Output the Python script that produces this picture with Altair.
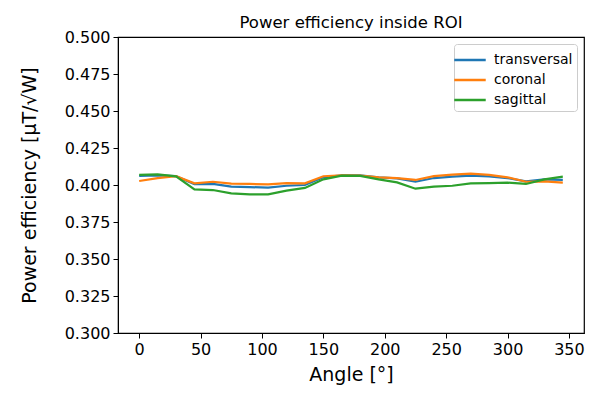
import altair as alt
import pandas as pd

angles = [0, 15, 30, 45, 60, 75, 90, 105, 120, 135, 150, 165,
          180, 195, 210, 225, 240, 255, 270, 285, 300, 315, 330, 345]

transversal = [0.4061, 0.4065, 0.4060, 0.4005, 0.4007, 0.3989, 0.3986, 0.3982,
               0.3995, 0.4000, 0.4052, 0.4066, 0.4066, 0.4052, 0.4045, 0.4022,
               0.4047, 0.4056, 0.4063, 0.4058, 0.4047, 0.4025, 0.4038, 0.4034]
coronal = [0.4027, 0.4047, 0.4060, 0.4011, 0.4022, 0.4009, 0.4007, 0.4004,
           0.4013, 0.4011, 0.4059, 0.4066, 0.4064, 0.4052, 0.4047, 0.4034,
           0.4060, 0.4070, 0.4077, 0.4068, 0.4052, 0.4022, 0.4025, 0.4016]
sagittal = [0.4068, 0.4072, 0.4058, 0.3970, 0.3966, 0.3944, 0.3937, 0.3937,
            0.3962, 0.3980, 0.4038, 0.4063, 0.4062, 0.4038, 0.4018, 0.3975,
            0.3989, 0.3995, 0.4011, 0.4013, 0.4016, 0.4007, 0.4038, 0.4056]

series_names = ["transversal", "coronal", "sagittal"]
series_colors = ["#1f77b4", "#ff7f0e", "#2ca02c"]
x_ticks = [0, 50, 100, 150, 200, 250, 300, 350]
y_ticks = [0.300, 0.325, 0.350, 0.375, 0.400, 0.425, 0.450, 0.475, 0.500]

rows = []
for name, vals in zip(series_names, [transversal, coronal, sagittal]):
    for a, v in zip(angles, vals):
        rows.append({"angle": a, "eff": v, "plane": name})
df = pd.DataFrame(rows)

FONT = "DejaVu Sans"

chart = alt.Chart(df).mark_line(strokeWidth=2.2).encode(
    x=alt.X("angle:Q", title="Angle [°]",
            scale=alt.Scale(domain=[-17.25, 362.25], nice=False, zero=False),
            axis=alt.Axis(values=x_ticks, grid=False, tickSize=5,
                          labelFontSize=16, titleFontSize=19,
                          titleFontWeight="normal", labelPadding=3,
                          titlePadding=8, domainColor="black",
                          tickColor="black", labelColor="black",
                          titleColor="black", labelFont=FONT, titleFont=FONT)),
    y=alt.Y("eff:Q", title="Power efficiency [μT/√W]",
            scale=alt.Scale(domain=[0.3, 0.5], nice=False, zero=False),
            axis=alt.Axis(values=y_ticks, format=".3f", grid=False, tickSize=5,
                          labelFontSize=16, titleFontSize=19,
                          titleFontWeight="normal", labelPadding=3,
                          titlePadding=25, domainColor="black",
                          tickColor="black", labelColor="black",
                          titleColor="black", labelFont=FONT, titleFont=FONT)),
    color=alt.Color("plane:N",
                    scale=alt.Scale(domain=series_names, range=series_colors),
                    sort=series_names,
                    legend=alt.Legend(title=None, orient="top-right",
                                      offset=7, symbolType="M-1.5,0H1.5",
                                      symbolSize=440, symbolStrokeWidth=2.5,
                                      labelFontSize=14, labelFont=FONT,
                                      labelColor="black",
                                      strokeColor="#cccccc", fillColor="white",
                                      cornerRadius=3, padding=4,
                                      rowPadding=1, labelOffset=12)),
    order=alt.Order("plane_order:Q"),
).transform_calculate(
    plane_order="indexof(['transversal','coronal','sagittal'], datum.plane)"
).properties(
    width=466, height=296,
    title=alt.TitleParams("Power efficiency inside ROI", fontSize=16.5,
                          fontWeight="normal", font=FONT, color="black",
                          offset=-2),
    autosize=alt.AutoSizeParams(type="none"),
    padding={"left": 110, "top": 29, "right": 8, "bottom": 60},
).configure_view(stroke="black", strokeWidth=1.2)

chart.save("out.html", embed_options={"renderer": "svg", "actions": False})
